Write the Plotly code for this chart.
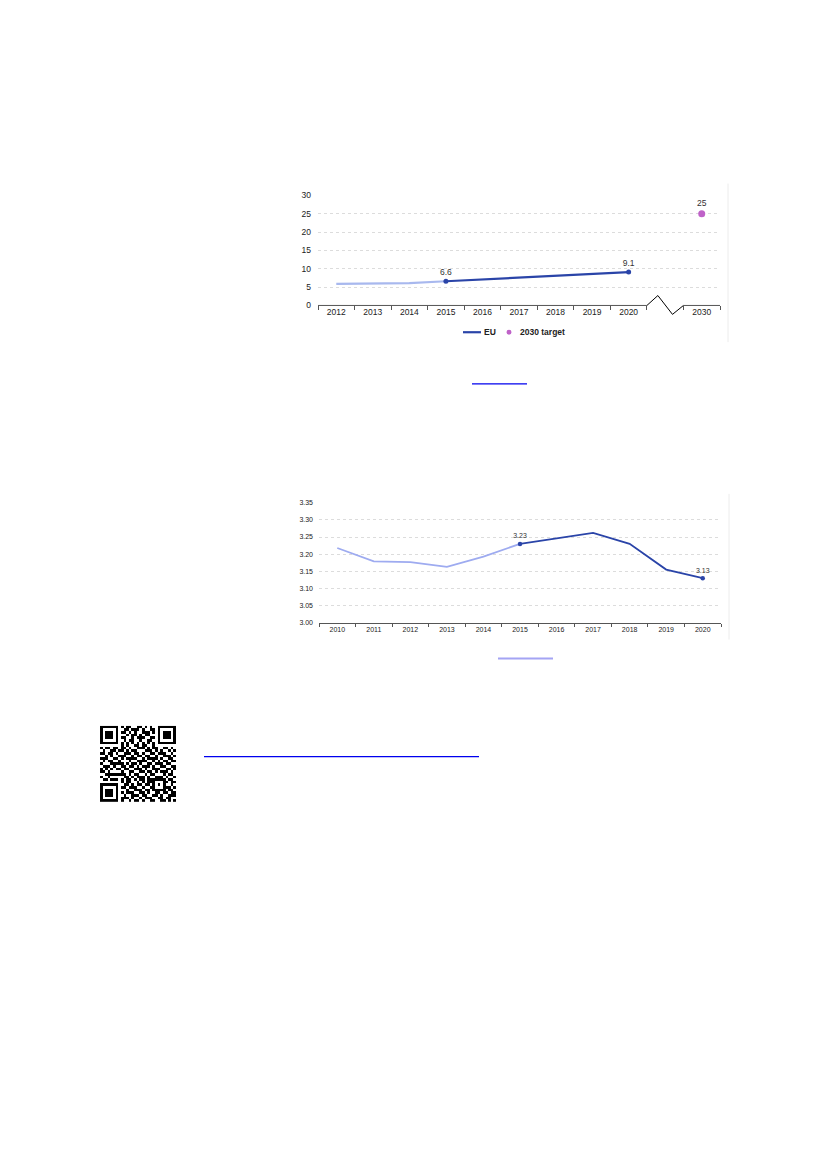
import plotly.graph_objects as go

PAGE_W, PAGE_H = 827, 1169
BODY = 8  # browser body margin around the plot div
W, H = PAGE_W - BODY, PAGE_H - BODY

# chart 1: EU share, 2012-2020 plus 2030 target
years1 = ["2012", "2013", "2014", "2015", "2016", "2017", "2018", "2019", "2020"]
eu_share = [5.9, 5.9, 6.1, 6.6, 7.1, 7.4, 7.9, 8.4, 9.1]
gap_cat = " "
target_year = ["2030"]
target_value = [25]
cats1 = years1 + [gap_cat] + target_year
legend_names = ["EU", "2030 target"]

# chart 2: index 2010-2020
years2 = ["2010", "2011", "2012", "2013", "2014", "2015", "2016", "2017", "2018", "2019", "2020"]
values2 = [3.218, 3.179, 3.177, 3.163, 3.193, 3.230, 3.247, 3.262, 3.230, 3.155, 3.130]

split_year = "2015"

# QR code modules, hand read (1 = black)
qr_rows = [
    "1111111" + "0" + "1011001101010" + "0" + "1111111",
    "1000001" + "0" + "0110111010011" + "0" + "1000001",
    "1011101" + "0" + "1101010011101" + "0" + "1011101",
    "1011101" + "0" + "0010110101100" + "0" + "1011101",
    "1011101" + "0" + "1100101110011" + "0" + "1011101",
    "1000001" + "0" + "0101100100110" + "0" + "1000001",
    "1111111" + "0" + "1010101010101" + "0" + "1111111",
    "0000000" + "0" + "1010011011001" + "0" + "0000000",
    "101101" + "1" + "0110100111010110011010",
    "010011" + "0" + "1101011000111010100101",
    "110110" + "1" + "0011101101001101110010",
    "001010" + "0" + "1110010110110010011101",
    "111001" + "1" + "0101111001011110100110",
    "010110" + "0" + "1000100111100101011011",
    "100011" + "1" + "1101011010011011101100",
    "011101" + "0" + "0110110101110100110011",
    "101010" + "1" + "1011001110100111001101",
    "110100" + "0" + "0100110011011010111010",
    "001111" + "1" + "1110101100101100010110",
    "100100" + "0" + "0011010111010011101001",
    "011011" + "1" + "0101101011011" + "11111" + "0110",
    "0000000" + "0" + "101100101011" + "10001" + "1011",
    "1111111" + "0" + "011010110110" + "10101" + "0010",
    "1000001" + "0" + "110111001001" + "10001" + "1101",
    "1011101" + "0" + "001001110110" + "11111" + "0110",
    "1011101" + "0" + "101110011010" + "01101" + "1011",
    "1011101" + "0" + "010011101100" + "11010" + "0111",
    "1000001" + "0" + "111010010111" + "00110" + "1100",
    "1111111" + "0" + "100101101001" + "10011" + "0101",
]

DARK = "#2a44a8"
LIGHT1 = "#a8b8ee"
LIGHT2 = "#9eabf0"
PURPLE = "#bf62c8"
AXIS = "#555555"
GRID = "#dcdcdc"
FONT = "Liberation Sans"


# page pixel -> paper fraction
def px_x(x):
    return (x - BODY) / W


def px_y(y):
    return 1 - (y - BODY) / H


fig = go.Figure()

# ---- chart 1 ----
k = years1.index(split_year)
fig.add_trace(go.Scatter(x=years1[:k + 1], y=eu_share[:k + 1], mode="lines",
                         line=dict(color=LIGHT1, width=2.2), hoverinfo="skip",
                         xaxis="x", yaxis="y"))
fig.add_trace(go.Scatter(x=years1[k:], y=eu_share[k:], mode="lines",
                         line=dict(color=DARK, width=2.2), name=legend_names[0],
                         xaxis="x", yaxis="y"))
lab_x = [years1[k], years1[-1]]
lab_y = [eu_share[k], eu_share[-1]]
fig.add_trace(go.Scatter(x=lab_x, y=lab_y, mode="markers+text",
                         marker=dict(color=DARK, size=5),
                         text=[f"{v:.1f}" for v in lab_y], textposition="top center",
                         textfont=dict(size=8.5, color="#333333", family=FONT),
                         xaxis="x", yaxis="y"))
fig.add_trace(go.Scatter(x=target_year, y=target_value, mode="markers+text",
                         marker=dict(color=PURPLE, size=7),
                         text=[str(v) for v in target_value], textposition="top center",
                         textfont=dict(size=8.5, color="#333333", family=FONT),
                         name=legend_names[1], xaxis="x", yaxis="y"))

# ---- chart 2 ----
k2 = years2.index(split_year)
fig.add_trace(go.Scatter(x=years2[:k2 + 1], y=values2[:k2 + 1], mode="lines",
                         line=dict(color=LIGHT2, width=1.8),
                         xaxis="x2", yaxis="y2"))
fig.add_trace(go.Scatter(x=years2[k2:], y=values2[k2:], mode="lines",
                         line=dict(color=DARK, width=1.8),
                         xaxis="x2", yaxis="y2"))
lab2_x = [years2[k2], years2[-1]]
lab2_y = [values2[k2], values2[-1]]
fig.add_trace(go.Scatter(x=lab2_x, y=lab2_y, mode="markers+text",
                         marker=dict(color=DARK, size=4.5),
                         text=[f"{v:.2f}" for v in lab2_y], textposition="top center",
                         textfont=dict(size=7, color="#333333", family=FONT),
                         xaxis="x2", yaxis="y2"))

# ---- QR code ----
qr_z = [[int(c) for c in row] for row in qr_rows]
fig.add_trace(go.Heatmap(z=qr_z, colorscale=[[0, "white"], [1, "black"]],
                         zmin=0, zmax=1, showscale=False,
                         hoverinfo="skip", xaxis="x3", yaxis="y3"))

c1_dom_x = [px_x(318), px_x(720)]
c1_dom_y = [px_y(303), px_y(192)]
c2_dom_x = [px_x(319), px_x(721)]
c2_dom_y = [px_y(623), px_y(502)]

n1 = len(cats1)
fig.update_layout(
    width=W, height=H, autosize=False,
    margin=dict(l=0, r=0, t=0, b=0),
    paper_bgcolor="white", plot_bgcolor="white",
    font=dict(family=FONT, color="#333333"),
    showlegend=False,
    xaxis=dict(domain=c1_dom_x, type="category", categoryorder="array",
               categoryarray=cats1, range=[-0.5, n1 - 0.5], showline=False,
               showgrid=False, ticks="outside", tickson="boundaries", ticklen=4,
               tickcolor=AXIS, tickfont=dict(size=8.5, color="#222222"),
               anchor="y", fixedrange=True),
    yaxis=dict(domain=c1_dom_y, range=[0, 30], dtick=5, showline=False,
               showgrid=True, gridcolor=GRID, griddash="dot", zeroline=False,
               tickfont=dict(size=8.5, color="#222222"), ticklabelstandoff=6,
               anchor="x", fixedrange=True),
    xaxis2=dict(domain=c2_dom_x, type="category", categoryorder="array",
                categoryarray=years2, range=[-0.5, len(years2) - 0.5],
                showline=True, linecolor=AXIS, linewidth=1, showgrid=False,
                ticks="outside", tickson="boundaries", ticklen=3, tickcolor=AXIS,
                tickfont=dict(size=7, color="#222222"), anchor="y2", fixedrange=True),
    yaxis2=dict(domain=c2_dom_y, range=[3.0, 3.35], dtick=0.05, tickformat=".2f",
                showline=False, showgrid=True, gridcolor=GRID, griddash="dot",
                zeroline=False, tickfont=dict(size=7, color="#222222"),
                ticklabelstandoff=5, anchor="x2", fixedrange=True),
    xaxis3=dict(domain=[px_x(100), px_x(176)], visible=False, anchor="y3",
                range=[-0.5, len(qr_rows) - 0.5]),
    yaxis3=dict(domain=[px_y(804), px_y(727)], visible=False, anchor="x3",
                autorange="reversed"),
)

# chart 1 x-axis line with a break in the gap slot
gi = cats1.index(gap_cat)
y0p = c1_dom_y[0]
leg_y = px_y(330)
shapes = [
    dict(type="line", xref="x", yref="paper", x0=-0.5, x1=gi - 0.5, y0=y0p, y1=y0p,
         line=dict(color=AXIS, width=1)),
    dict(type="line", xref="x", yref="paper", x0=gi + 0.5, x1=n1 - 0.5, y0=y0p, y1=y0p,
         line=dict(color=AXIS, width=1)),
    dict(type="path", xref="x", yref="paper",
         path=(f"M {gi - 0.5} {y0p} L {gi - 0.2} {y0p + 10 / H} "
               f"L {gi + 0.2} {y0p - 9 / H} L {gi + 0.5} {y0p}"),
         line=dict(color="black", width=1)),
    # hand-made legend for chart 1
    dict(type="line", xref="paper", yref="paper", x0=px_x(463), x1=px_x(481),
         y0=leg_y, y1=leg_y, line=dict(color=DARK, width=2.2)),
    dict(type="circle", xref="paper", yref="paper", x0=px_x(506.5), x1=px_x(511.5),
         y0=leg_y - 2.5 / H, y1=leg_y + 2.5 / H, fillcolor=PURPLE,
         line=dict(color=PURPLE, width=0)),
    # faint right borders of the chart images
    dict(type="line", xref="paper", yref="paper", x0=px_x(728), x1=px_x(728),
         y0=px_y(340), y1=px_y(180), line=dict(color="#ececec", width=1)),
    dict(type="line", xref="paper", yref="paper", x0=px_x(729), x1=px_x(729),
         y0=px_y(640), y1=px_y(493), line=dict(color="#ececec", width=1)),
    # link underlines on the page
    dict(type="line", xref="paper", yref="paper", x0=px_x(472), x1=px_x(527),
         y0=px_y(382), y1=px_y(382), line=dict(color="#0000ee", width=1.2)),
    dict(type="line", xref="paper", yref="paper", x0=px_x(498), x1=px_x(553),
         y0=px_y(659), y1=px_y(659), line=dict(color="#a4a4f4", width=2)),
    dict(type="line", xref="paper", yref="paper", x0=px_x(204), x1=px_x(479),
         y0=px_y(758), y1=px_y(758), line=dict(color="#0000ee", width=1.2)),
]
annotations = [
    dict(text=f"<b>{legend_names[0]}</b>", xref="paper", yref="paper",
         x=px_x(482), y=leg_y, xanchor="left", yanchor="middle", showarrow=False,
         font=dict(size=8.5, color="#222222", family=FONT)),
    dict(text=f"<b>{legend_names[1]}</b>", xref="paper", yref="paper",
         x=px_x(518), y=leg_y, xanchor="left", yanchor="middle", showarrow=False,
         font=dict(size=8.5, color="#222222", family=FONT)),
]
fig.update_layout(shapes=shapes, annotations=annotations)

fig.write_html("out.html")
